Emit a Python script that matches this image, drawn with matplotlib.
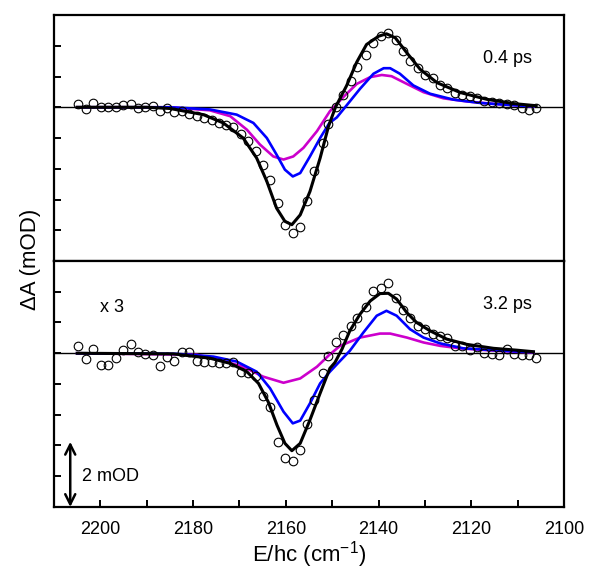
import matplotlib
matplotlib.use("Agg")
import matplotlib.pyplot as plt
from matplotlib.ticker import MultipleLocator

plt.rcParams["font.family"] = ["Liberation Sans", "DejaVu Sans"]
plt.rcParams["mathtext.fontset"] = "custom"
plt.rcParams["mathtext.rm"] = "Liberation Sans"
plt.rcParams["axes.unicode_minus"] = False

# measured spectra (circles) - same wavenumber grid for both delays
wn_data = [2204.8, 2203.1, 2201.5, 2199.9, 2198.4, 2196.7, 2195.1, 2193.5, 2191.9, 2190.4,
           2188.7, 2187.1, 2185.7, 2184.1, 2182.5, 2180.9, 2179.2, 2177.6, 2176.0, 2174.4,
           2172.9, 2171.3, 2169.7, 2168.1, 2166.5, 2164.9, 2163.4, 2161.7, 2160.2, 2158.5,
           2156.9, 2155.5, 2153.9, 2152.0, 2150.8, 2149.2, 2147.6, 2146.0, 2144.6, 2142.8,
           2141.1, 2139.5, 2137.9, 2136.2, 2134.7, 2133.2, 2131.6, 2130.0, 2128.3, 2126.7,
           2125.2, 2123.5, 2121.9, 2120.3, 2118.8, 2117.2, 2115.6, 2114.0, 2112.4, 2110.8,
           2109.1, 2107.5, 2106.0]
dA_04ps = [0.09, -0.07, 0.14, 0.01, 0.01, 0.01, 0.07, 0.09, -0.04, 0.0,
           0.03, -0.13, -0.02, -0.16, -0.13, -0.22, -0.29, -0.35, -0.43, -0.51,
           -0.59, -0.64, -0.87, -1.11, -1.43, -1.87, -2.36, -3.11, -3.82, -4.09,
           -3.91, -3.04, -2.06, -1.16, -0.56, 0.02, 0.41, 0.84, 1.30, 1.71,
           2.09, 2.31, 2.42, 2.20, 1.82, 1.49, 1.28, 1.06, 0.95, 0.73,
           0.62, 0.46, 0.41, 0.35, 0.30, 0.21, 0.17, 0.14, 0.10, 0.08,
           -0.03, -0.08, -0.01]
dA_32ps = [0.24, -0.19, 0.14, -0.38, -0.38, -0.14, 0.09, 0.29, 0.03, -0.03,
           -0.05, -0.40, -0.13, -0.24, 0.03, 0.03, -0.24, -0.27, -0.27, -0.31,
           -0.33, -0.27, -0.60, -0.63, -0.73, -1.39, -1.74, -2.88, -3.42, -3.51,
           -3.15, -2.30, -1.52, -0.63, -0.09, 0.37, 0.60, 0.87, 1.16, 1.49,
           2.01, 2.12, 2.27, 1.81, 1.40, 1.16, 0.89, 0.78, 0.62, 0.56,
           0.51, 0.24, 0.24, 0.10, 0.21, 0.00, -0.03, -0.07, 0.13, -0.03,
           -0.07, -0.07, -0.16]

# 0.4 ps fits
fit04_x = [2205, 2190, 2185.0, 2177.8, 2173.5, 2169.2, 2166.3, 2164.1, 2162.0, 2160.2,
           2158.7, 2156.9, 2154.8, 2152.6, 2150.8, 2149.3, 2146.9, 2144.7, 2142.6, 2140.0,
           2138.3, 2136.4, 2133.9, 2131.0, 2127.4, 2122.4, 2116.7, 2110.9, 2106.0]
fit04_y = [0, 0, -0.04, -0.24, -0.51, -1.00, -1.65, -2.41, -3.28, -3.71,
           -3.82, -3.50, -2.74, -1.65, -0.62, 0.0, 0.70, 1.47, 2.04, 2.31,
           2.39, 2.26, 1.77, 1.23, 0.80, 0.48, 0.26, 0.12, 0.05]
blue04_x = [2205, 2185.0, 2176.4, 2170.6, 2167.0, 2164.1, 2162.0, 2160.2, 2158.5, 2156.9,
            2154.8, 2152.6, 2150.6, 2149.0, 2146.9, 2144.0, 2141.1, 2138.9, 2137.5, 2135.4,
            2132.5, 2128.9, 2123.9, 2118.1, 2112.4, 2106.6]
blue04_y = [0, 0, -0.07, -0.24, -0.51, -1.00, -1.54, -2.03, -2.25, -2.14,
            -1.60, -1.00, -0.51, -0.33, 0.06, 0.60, 1.09, 1.27, 1.27, 1.09,
            0.71, 0.44, 0.25, 0.14, 0.08, 0.03]
mag04_x = [2205, 2185.0, 2176.4, 2172.0, 2168.4, 2165.6, 2162.7, 2160.5, 2158.4, 2156.2,
           2153.3, 2150.5, 2147.6, 2144.7, 2141.8, 2139.3, 2137.2, 2133.9, 2130.3, 2126.0,
           2121.0, 2115.2, 2109.5, 2106.6]
mag04_y = [0, 0, -0.10, -0.29, -0.73, -1.21, -1.60, -1.70, -1.60, -1.32,
           -0.78, -0.13, 0.33, 0.76, 0.98, 1.05, 1.01, 0.76, 0.49, 0.29,
           0.19, 0.11, 0.06, 0.03]

# 3.2 ps fits (x 3)
fit32_x = [2205, 2184.3, 2176.4, 2172.0, 2168.4, 2165.9, 2163.8, 2161.9, 2160.2, 2158.7,
           2156.9, 2154.8, 2152.6, 2150.5, 2149.4, 2147.9, 2146.2, 2144.0, 2141.8, 2139.7,
           2137.9, 2136.1, 2133.9, 2131.8, 2128.9, 2125.3, 2121.0, 2115.2, 2110.2, 2106.6]
fit32_y = [0, -0.02, -0.16, -0.33, -0.60, -0.98, -1.58, -2.34, -2.93, -3.17,
           -2.93, -2.17, -1.30, -0.49, -0.30, 0.13, 0.73, 1.27, 1.70, 1.94,
           1.95, 1.76, 1.32, 1.00, 0.73, 0.46, 0.29, 0.16, 0.10, 0.05]
blue32_x = [2205, 2183.4, 2175.6, 2170.6, 2166.3, 2163.4, 2160.5, 2158.5, 2156.9, 2154.8,
            2152.6, 2150.5, 2148.3, 2146.2, 2143.3, 2140.4, 2138.3, 2136.1, 2133.2, 2130.3,
            2126.7, 2121.7, 2115.2, 2109.5, 2106.6]
blue32_y = [0, -0.02, -0.11, -0.27, -0.60, -1.14, -1.90, -2.28, -2.19, -1.63,
            -0.98, -0.60, -0.25, 0.08, 0.67, 1.22, 1.38, 1.22, 0.78, 0.51,
            0.32, 0.16, 0.10, 0.05, 0.04]
mag32_x = [2205, 2179.2, 2174.2, 2169.2, 2164.9, 2160.5, 2156.9, 2153.3, 2150.6, 2148.3,
           2144.0, 2139.7, 2137.5, 2133.9, 2130.3, 2126.7, 2122.4, 2116.7, 2110.9, 2106.6]
mag32_y = [0, -0.05, -0.22, -0.44, -0.76, -0.96, -0.82, -0.44, -0.05, 0.24,
           0.51, 0.64, 0.64, 0.51, 0.35, 0.24, 0.16, 0.10, 0.05, 0.03]

fig = plt.figure(figsize=(5.89, 5.73), dpi=100)
ax_top = fig.add_axes([0.0917, 0.5445, 0.8659, 0.4293])
ax_bot = fig.add_axes([0.0917, 0.1152, 0.8659, 0.4293])

panels = [
    (ax_top, dA_04ps, (fit04_x, fit04_y), (blue04_x, blue04_y), (mag04_x, mag04_y), "0.4 ps"),
    (ax_bot, dA_32ps, (fit32_x, fit32_y), (blue32_x, blue32_y), (mag32_x, mag32_y), "3.2 ps"),
]

for ax, data, fit, blue, mag, label in panels:
    ax.axhline(0, color="black", linewidth=1.0, zorder=1)
    ax.plot(*mag, color="#CC00CC", linewidth=1.9, zorder=2)
    ax.plot(*blue, color="#0000FF", linewidth=1.9, zorder=3)
    ax.plot(*fit, color="black", linewidth=2.2, zorder=4)
    ax.plot(wn_data, data, linestyle="none", marker="o", markersize=6.2,
            markerfacecolor="none", markeredgecolor="black", markeredgewidth=0.8, zorder=5)
    ax.set_xlim(2210, 2100)
    ax.set_ylim(-5, 3)
    ax.yaxis.set_major_locator(MultipleLocator(1))
    ax.tick_params(axis="y", direction="in", length=5, width=1.4, left=True, right=False,
                   labelleft=False)
    for sp in ax.spines.values():
        sp.set_linewidth(1.6)
    ax.text(2107, 1.6, label, ha="right", va="center", fontsize=13)

ax_top.tick_params(axis="x", which="both", bottom=False, top=False, labelbottom=False)
ax_bot.xaxis.set_major_locator(MultipleLocator(20))
ax_bot.xaxis.set_minor_locator(MultipleLocator(10))
ax_bot.tick_params(axis="x", which="both", direction="in", length=5, width=1.4,
                   top=False, labelsize=13, pad=10)

ax_bot.text(2200, 1.5, "x 3", ha="left", va="center", fontsize=13)
ax_bot.annotate("", xy=(2206.5, -5.0), xytext=(2206.5, -2.88),
                arrowprops=dict(arrowstyle="<->", color="black", lw=1.8, mutation_scale=18,
                                shrinkA=0, shrinkB=0))
ax_bot.text(2204.0, -4.02, "2 mOD", ha="left", va="center", fontsize=13)

ax_bot.set_xlabel("E/hc (cm$^{-1}$)", fontsize=16, labelpad=1)
fig.text(0.052, 0.548, "ΔA (mOD)", rotation=90, ha="center", va="center", fontsize=16)

fig.savefig("out.png", dpi=100)
